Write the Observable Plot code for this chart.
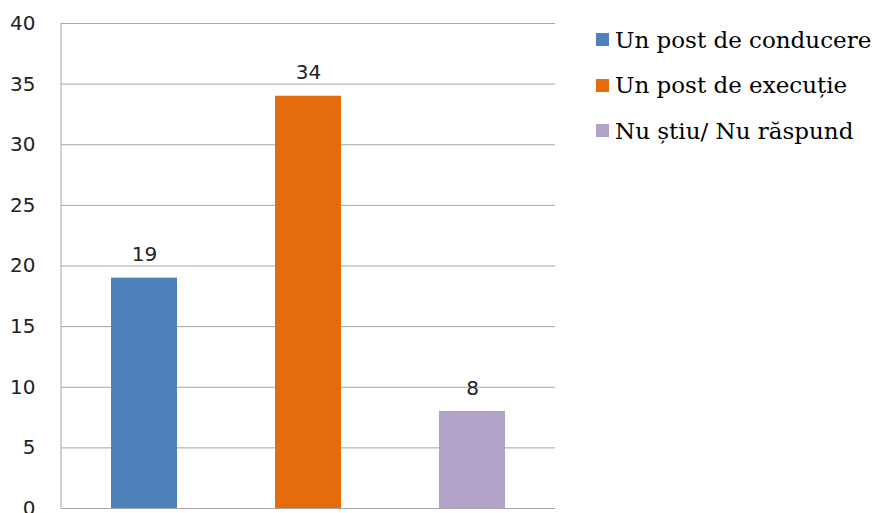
<!DOCTYPE html>
<html><head><meta charset="utf-8">
<script src="https://cdn.jsdelivr.net/npm/d3@7"></script>
<script src="https://cdn.jsdelivr.net/npm/@observablehq/plot@0.6"></script>
<style>
body{margin:0;background:#fff;}
#wrap{position:relative;width:880px;height:513px;overflow:hidden;}
#legend{position:absolute;left:596px;top:17px;font-family:"DejaVu Serif",serif;font-size:23px;color:#000;}
.li{display:flex;align-items:center;height:45.5px;white-space:nowrap;}
.sw{width:13px;height:13px;margin-right:6px;}
</style></head>
<body><div id="wrap"><div id="legend"></div></div>
<script>
const categories = ["Un post de conducere", "Un post de execuție", "Nu știu/ Nu răspund"];
const values = [19, 34, 8];
const colors = ["#4f81bd", "#e46c0a", "#b2a2c7"];
const yTicks = [0, 5, 10, 15, 20, 25, 30, 35, 40];

const data = categories.map((c, i) => ({cat: c, value: values[i], color: colors[i]}));

const chart = Plot.plot({
  width: 880, height: 513,
  marginLeft: 61, marginRight: 325, marginTop: 23, marginBottom: 5,
  style: {fontFamily: "DejaVu Sans, sans-serif", fontSize: "20px", color: "#222", background: "#fff"},
  x: {domain: categories, paddingInner: 0.6, paddingOuter: 0.3, axis: null},
  y: {domain: [0, 40], ticks: yTicks, tickSize: 0, tickPadding: 26, label: null, tickFormat: d => d},
  marks: [
    Plot.gridY(yTicks, {stroke: "#a6a6a6", strokeOpacity: 1, strokeWidth: 1}),
    Plot.barY(data, {x: "cat", y: "value", fill: "color"}),
    Plot.text(data, {x: "cat", y: "value", text: d => String(d.value), lineAnchor: "bottom", dy: -17, fontSize: 20, fill: "#222"}),
    Plot.ruleY([0], {stroke: "#a6a6a6"})
  ]
});
document.getElementById("wrap").appendChild(chart);
const svg = d3.select(chart);
svg.append("line").attr("x1", 61).attr("x2", 61).attr("y1", 23).attr("y2", 508).attr("stroke", "#a6a6a6");

const lg = document.getElementById("legend");
categories.forEach((c, i) => {
  const row = document.createElement("div"); row.className = "li";
  const sw = document.createElement("div"); sw.className = "sw"; sw.style.background = colors[i];
  const t = document.createElement("span"); t.textContent = c;
  row.appendChild(sw); row.appendChild(t); lg.appendChild(row);
});
</script></body></html>
